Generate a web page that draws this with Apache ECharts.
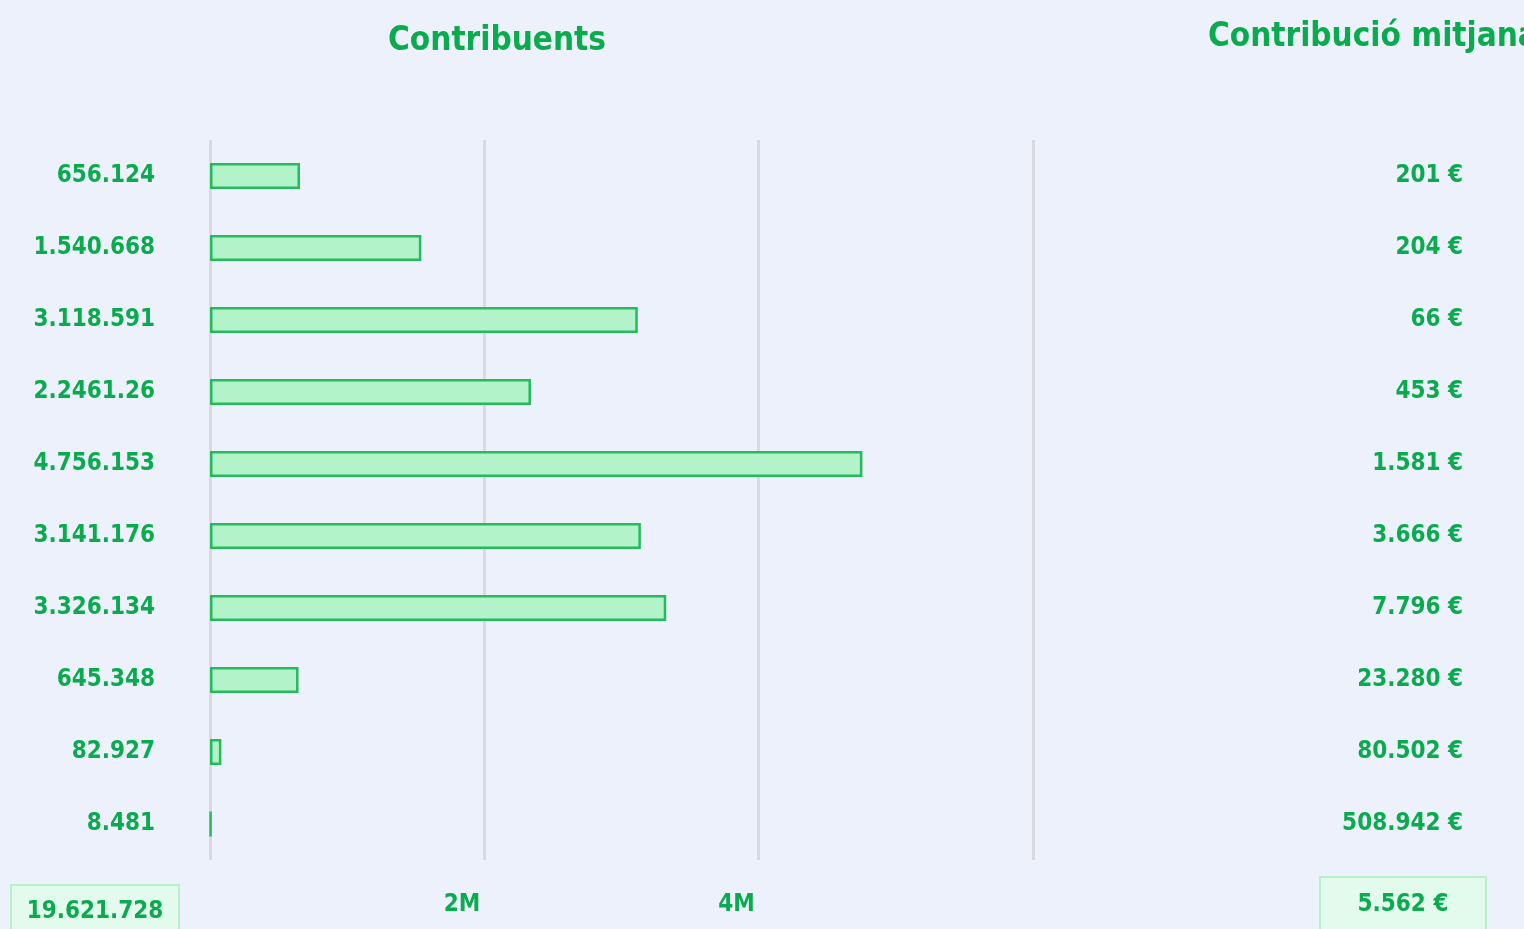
<!DOCTYPE html>
<html>
<head>
<meta charset="utf-8">
<script src="https://cdn.jsdelivr.net/npm/echarts@6/dist/echarts.min.js"></script>
<style>
  html, body { margin: 0; padding: 0; background: #edf1fc; }
  #chart { width: 1524px; height: 929px; }
</style>
</head>
<body>
<div id="chart"></div>
<script>
// dades
const contribLabels = ['656.124', '1.540.668', '3.118.591', '2.2461.26', '4.756.153',
  '3.141.176', '3.326.134', '645.348', '82.927', '8.481'];
const contribValues = [656124, 1540668, 3118591, 2340000, 4756153,
  3141176, 3326134, 645348, 82927, 8481];
const avgLabels = ['201 €', '204 €', '66 €', '453 €', '1.581 €',
  '3.666 €', '7.796 €', '23.280 €', '80.502 €', '508.942 €'];
const tickLabels = { 2000000: '2M', 4000000: '4M' };
const totalContrib = '19.621.728';
const totalAvg = '5.562 €';

const GREEN = '#0aaa4e';
const FONT = "'DejaVu Sans Condensed', 'Liberation Sans Narrow', sans-serif";

const chart = echarts.init(document.getElementById('chart'));

const option = {
  backgroundColor: '#edf1fc',
  textStyle: { fontFamily: FONT },
  title: [{
    text: 'Contribuents',
    left: 492,
    top: 20,
    textAlign: 'center',
    textStyle: { color: GREEN, fontSize: 33, fontWeight: 'bold', fontFamily: FONT },
  }, {
    text: 'Contribució mitjana',
    left: 1203,
    top: 16,
    textStyle: { color: GREEN, fontSize: 33, fontWeight: 'bold', fontFamily: FONT },
  }],
  grid: {
    left: 210,
    right: 491,
    top: 140,
    bottom: 69,
    containLabel: false,
  },
  xAxis: {
    type: 'value',
    min: 0,
    max: 6000000,
    interval: 2000000,
    axisLine: { show: false },
    axisTick: { show: false },
    splitLine: { show: true, lineStyle: { color: '#d9d9df', width: 3 } },
    axisLabel: {
      margin: 33,
      color: GREEN,
      fontSize: 24,
      fontWeight: 'bold',
      fontFamily: FONT,
      align: 'right',
      padding: [0, 4, 0, 0],
      formatter: v => tickLabels[v] || '',
    },
  },
  yAxis: [{
    type: 'category',
    inverse: true,
    data: contribLabels,
    axisLine: { show: false },
    axisTick: { show: false },
    axisLabel: {
      margin: 55,
      color: GREEN,
      fontSize: 24,
      fontWeight: 'bold',
      fontFamily: FONT,
    },
  }, {
    type: 'category',
    inverse: true,
    position: 'right',
    data: avgLabels,
    axisLine: { show: false },
    axisTick: { show: false },
    axisLabel: {
      margin: 430,
      align: 'right',
      color: GREEN,
      fontSize: 24,
      fontWeight: 'bold',
      fontFamily: FONT,
      padding: [8, 0, 0, 0],
    },
  }],
  series: [{
    type: 'bar',
    yAxisIndex: 0,
    data: contribValues,
    barWidth: 26,
    itemStyle: {
      color: '#b3f3c9',
      borderColor: '#25bb5c',
      borderWidth: 2.5,
    },
  }],
  graphic: [{
    type: 'group',
    left: 10,
    top: 884,
    children: [{
      type: 'rect',
      shape: { x: 0, y: 0, width: 168, height: 60 },
      style: { fill: '#e3fbec', stroke: '#b8f0cb', lineWidth: 2 },
    }, {
      type: 'text',
      x: 84,
      y: 27,
      style: {
        text: totalContrib,
        fill: GREEN,
        font: 'bold 24px ' + FONT,
        align: 'center',
        verticalAlign: 'middle',
      },
    }],
  }, {
    type: 'group',
    left: 1319,
    top: 876,
    children: [{
      type: 'rect',
      shape: { x: 0, y: 0, width: 166, height: 70 },
      style: { fill: '#e3fbec', stroke: '#b8f0cb', lineWidth: 2 },
    }, {
      type: 'text',
      x: 83,
      y: 28,
      style: {
        text: totalAvg,
        fill: GREEN,
        font: 'bold 24px ' + FONT,
        align: 'center',
        verticalAlign: 'middle',
      },
    }],
  }],
};

chart.setOption(option);
</script>
</body>
</html>
